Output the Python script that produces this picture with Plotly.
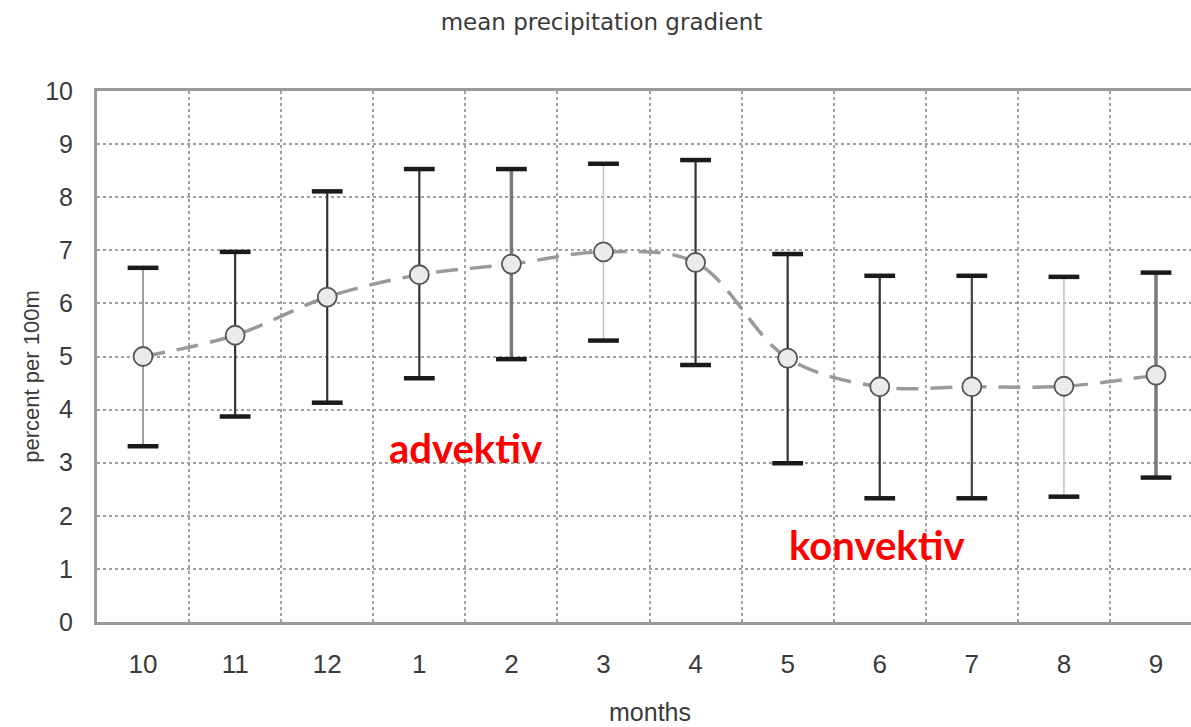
import plotly.graph_objects as go

# Monthly precipitation gradient (percent per 100 m), hydrological year Oct-Sep
months = ["10", "11", "12", "1", "2", "3", "4", "5", "6", "7", "8", "9"]
mean_vals = [5.00, 5.40, 6.12, 6.54, 6.74, 6.97, 6.77, 4.97, 4.43, 4.43, 4.44, 4.65]
upper_vals = [6.67, 6.97, 8.11, 8.53, 8.53, 8.63, 8.70, 6.93, 6.52, 6.52, 6.50, 6.58]
lower_vals = [3.31, 3.87, 4.13, 4.59, 4.95, 5.30, 4.84, 2.99, 2.33, 2.33, 2.36, 2.72]

# stem appearance per month
stem_colors = ["#8a8a8a", "#333333", "#333333", "#333333", "#7a7a7a", "#c4c4c4",
               "#333333", "#333333", "#333333", "#444444", "#c4c4c4", "#7a7a7a"]
stem_widths = [1.6, 2.2, 2.2, 2.2, 3.5, 1.6, 2.2, 2.2, 2.2, 2.2, 1.6, 3.5]

xpos = list(range(len(months)))
y_tick_font = dict(family="Liberation Sans Narrow, Liberation Sans, Arial", size=25, color="#3a3a3a")
x_tick_font = dict(family="Liberation Sans Narrow, Liberation Sans, Arial", size=26, color="#3a3a3a")

fig = go.Figure()

# error-bar stems
for i in xpos:
    fig.add_trace(go.Scatter(
        x=[i, i], y=[lower_vals[i], upper_vals[i]], mode="lines",
        line=dict(color=stem_colors[i], width=stem_widths[i]),
        hoverinfo="skip", showlegend=False))

# black caps at both ends
fig.add_trace(go.Scatter(
    x=xpos + xpos, y=upper_vals + lower_vals, mode="markers",
    marker=dict(symbol="line-ew", size=22, line=dict(color="#1a1a1a", width=4.5)),
    hoverinfo="skip", showlegend=False))

# smoothed mean curve
fig.add_trace(go.Scatter(
    x=xpos, y=mean_vals, mode="lines",
    line=dict(color="#9a9a9a", width=3.5, dash="22px,12px", shape="spline", smoothing=1.0),
    hoverinfo="skip", showlegend=False))

# mean markers
fig.add_trace(go.Scatter(
    x=xpos, y=mean_vals, mode="markers",
    marker=dict(symbol="circle", size=19, color="#ebebeb", line=dict(color="#555555", width=1.8)),
    showlegend=False))

fig.update_layout(
    width=1191, height=727,
    margin=dict(l=97, r=0, t=91, b=105),
    paper_bgcolor="white", plot_bgcolor="white",
    title=dict(text="mean precipitation gradient", x=0.505, xanchor="center",
               y=1 - 22 / 727, yanchor="middle",
               font=dict(family="DejaVu Sans, Liberation Sans, Arial", size=23, color="#3a3a3a")),
    annotations=[
        dict(text="percent per 100m", xref="paper", yref="paper", x=-0.0594, y=0.462,
             textangle=-90, showarrow=False, xanchor="center", yanchor="middle",
             font=dict(family="Liberation Sans, Arial", size=22, color="#3a3a3a")),
        dict(text="months", xref="paper", yref="paper", x=0.5055, y=-0.1695,
             showarrow=False, xanchor="center", yanchor="middle",
             font=dict(family="Liberation Sans Narrow, Liberation Sans, Arial", size=25, color="#3a3a3a")),
        dict(text="<b>advektiv</b>", x=3.5, y=3.28, xref="x", yref="y", showarrow=False,
             xanchor="center", yanchor="middle",
             font=dict(family="Lato, Open Sans, sans-serif", size=40, color="#ff0000")),
        dict(text="<b>konvektiv</b>", x=7.97, y=1.45, xref="x", yref="y", showarrow=False,
             xanchor="center", yanchor="middle",
             font=dict(family="Lato, Open Sans, sans-serif", size=40, color="#ff0000")),
    ],
)

fig.update_xaxes(
    range=[-0.5, 11.38], tickvals=xpos, ticktext=months, tickfont=x_tick_font,
    showgrid=False, zeroline=False, ticks="", ticklabelstandoff=17,
    showline=True, linecolor="#9a9a9a", linewidth=3, mirror=True,
    minor=dict(tick0=0.5, dtick=1, showgrid=True, gridcolor="#a0a0a0", griddash="dot", gridwidth=2),
)
fig.update_yaxes(
    range=[0, 10], tickvals=list(range(11)), tickfont=y_tick_font,
    showgrid=True, gridcolor="#a0a0a0", griddash="dot", gridwidth=2,
    zeroline=False, ticks="", ticklabelstandoff=16,
    showline=True, linecolor="#9a9a9a", linewidth=3,
)

fig.write_html("out.html")
